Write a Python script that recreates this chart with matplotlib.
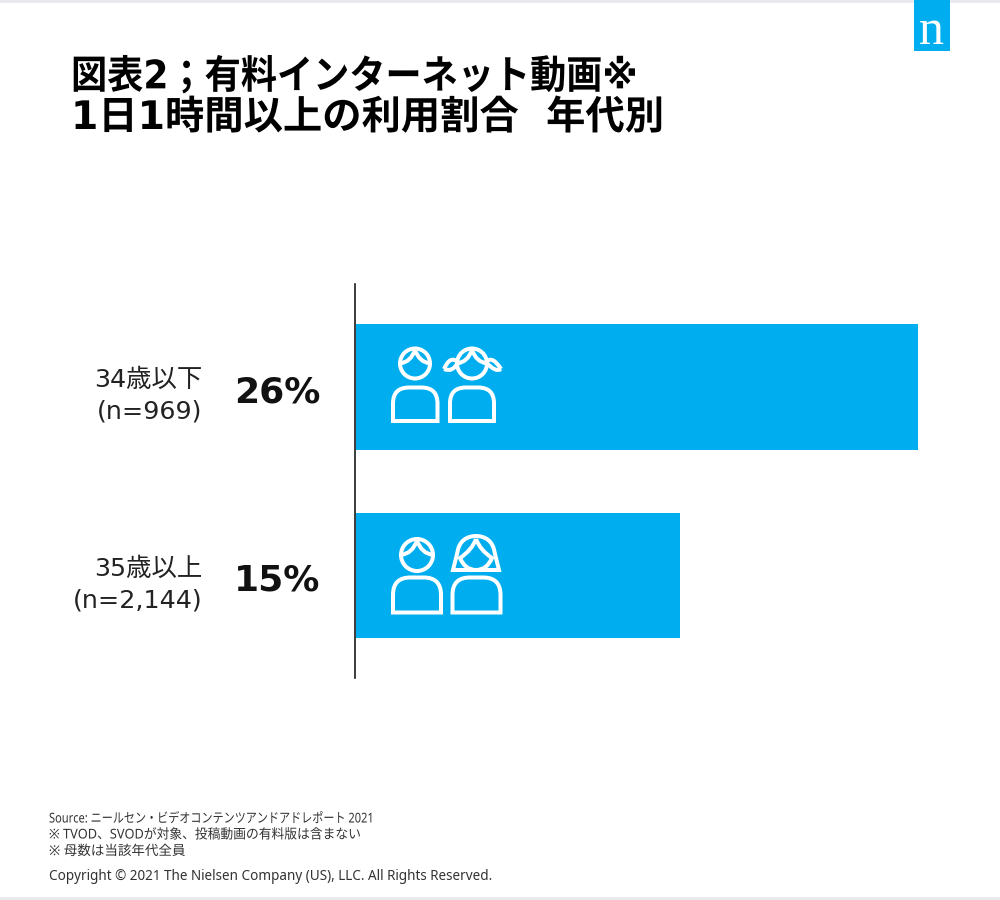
import matplotlib
matplotlib.use("Agg")
from matplotlib import pyplot as plt
from matplotlib.patches import PathPatch, Rectangle, Circle
from matplotlib.path import Path
from matplotlib.patheffects import AbstractPathEffect
from matplotlib.transforms import Affine2D, ScaledTranslation

FONTS = ["DejaVu Sans", "Noto Sans CJK JP"]
FOOT_FONTS = ["Noto Sans", "Noto Sans CJK JP"]
plt.rcParams["font.family"] = FONTS

BLUE = "#00aeef"
PX = 72 / 100  # one pixel in points
ICON_LW = 4 * PX

title_lines = ["図表2；有料インターネット動画※", "1日1時間以上の利用割合  年代別"]
categories = ["34歳以下\n(n=969)", "35歳以上\n(n=2,144)"]
shares = [26, 15]
footnotes = [
    "Source: ニールセン・ビデオコンテンツアンドアドレポート 2021",
    "※ TVOD、SVODが対象、投稿動画の有料版は含まない",
    "※ 母数は当該年代全員",
]
copyright_line = "Copyright © 2021 The Nielsen Company (US), LLC. All Rights Reserved."


class Squeeze(AbstractPathEffect):
    """narrows a text line about its left edge, the source sets its kana tighter"""

    def __init__(self, x0, k):
        super().__init__()
        self.x0 = x0
        self.k = k

    def draw_path(self, renderer, gc, tpath, affine, rgbFace=None):
        squeeze = Affine2D().translate(-self.x0, 0).scale(self.k, 1).translate(self.x0, 0)
        renderer.draw_path(gc, tpath, affine + squeeze, rgbFace)


fig = plt.figure(figsize=(10, 9), dpi=100)

# overlay in pixel coordinates for the page furniture and icons
page = fig.add_axes([0, 0, 1, 1], zorder=3)
page.set_xlim(0, 1000)
page.set_ylim(900, 0)
page.axis("off")

# bar axes: 356..1004 px wide, 284..678 px tall
ax = fig.add_axes([0.356, 1 - 678 / 900, 0.648, 394 / 900], zorder=1)
ax.barh(range(len(shares)), shares, height=0.665, color=BLUE)
ax.set_xlim(0, 30)
ax.set_ylim(1.544, -0.546)
ax.patch.set_alpha(0)
for side in ["top", "right", "bottom"]:
    ax.spines[side].set_visible(False)
ax.spines["left"].set_linewidth(1.6 * PX)
ax.spines["left"].set_color("#111111")
ax.spines["left"].set_position(("outward", 0.8 * PX))
ax.set_xticks([])
ax.set_yticks(range(len(categories)), categories)
ax.tick_params(axis="y", length=0, pad=153 * PX, labelsize=18.3, labelcolor="#222222")
shift_down = ScaledTranslation(0, -2.5 / 100, fig.dpi_scale_trans)
for lab in ax.get_yticklabels():
    lab.set_horizontalalignment("right")
    lab.set_linespacing(1.42)
    lab.set_transform(lab.get_transform() + shift_down)
for i, v in enumerate(shares):
    ax.annotate(f"{v}%", (0, i), xytext=(-35.5 * PX, -5.5 * PX), textcoords="offset points",
                ha="right", va="center", fontsize=26, fontweight="bold", color="#111111")

# title
for y, line, k in zip([77, 118], title_lines, [0.92, 1.0]):
    t = page.text(71, y, line, fontsize=28.3, fontweight="bold", color="black", ha="left", va="center")
    t.set_path_effects([Squeeze(71, k)])

# footer
for y, line, k in zip([819, 835, 851.5], footnotes, [0.82, 0.945, 1.0]):
    t = page.text(49, y, line, fontsize=9.73, color="#333333", family=FOOT_FONTS, va="center")
    t.set_path_effects([Squeeze(49, k)])
page.text(49, 877, copyright_line, fontsize=9.73, color="#333333", family=FOOT_FONTS, va="center")

# thin grey page edges
page.add_patch(Rectangle((0, 0), 1000, 2.5, color="#e8eaed", lw=0))
page.add_patch(Rectangle((0, 896.5), 1000, 3.5, color="#e8eaed", lw=0))

# logo
page.add_patch(Rectangle((913.5, 0), 36, 51, color=BLUE, lw=0))
page.text(931.5, 43.5, "n", color="white", fontsize=36, family="Liberation Serif", ha="center", va="baseline")


def stroke(verts, codes):
    page.add_patch(PathPatch(Path(verts, codes), fill=False, edgecolor="white", lw=ICON_LW))


def body(x0, x1, top, bottom):
    r = (x1 - x0) * 0.36
    stroke(
        [(x0, bottom), (x0, top + r), (x0, top), (x0 + r, top), (x1 - r, top),
         (x1, top), (x1, top + r), (x1, bottom), (x0, bottom)],
        [Path.MOVETO, Path.LINETO, Path.CURVE3, Path.CURVE3, Path.LINETO,
         Path.CURVE3, Path.CURVE3, Path.LINETO, Path.CLOSEPOLY],
    )


def head(cx, cy, r):
    page.add_patch(Circle((cx, cy), r, fill=False, edgecolor="white", lw=ICON_LW))
    # fringe, two strokes meeting at the parting
    top = cy - r * 0.9
    for s in [-1, 1]:
        stroke([(cx + s * r * 0.97, cy - r * 0.02), (cx + s * r * 0.3, cy - r * 0.08), (cx, top)],
               [Path.MOVETO, Path.CURVE3, Path.CURVE3])


def pigtail(x_tip, x_root, y):
    mid = (x_tip + x_root) / 2
    stroke([(x_tip, y), (mid - 1, y - 14), (x_root, y - 7), (mid + 2, y + 4), (x_tip, y)],
           [Path.MOVETO, Path.CURVE3, Path.CURVE3, Path.CURVE3, Path.CURVE3])


def bob_hair(cx, base):
    stroke(
        [(cx - 23, base), (cx - 18.5, base - 18),
         (cx - 17, base - 29), (cx - 9, base - 34), (cx, base - 34),
         (cx + 9, base - 34), (cx + 17, base - 29), (cx + 18.5, base - 18),
         (cx + 23, base), (cx - 23, base)],
        [Path.MOVETO, Path.LINETO,
         Path.CURVE4, Path.CURVE4, Path.CURVE4,
         Path.CURVE4, Path.CURVE4, Path.CURVE4,
         Path.LINETO, Path.CLOSEPOLY],
    )
    stroke(
        [(cx, base - 31), (cx - 4, base - 20), (cx - 16, base - 12), (cx - 11, base), (cx, base),
         (cx + 11, base), (cx + 16, base - 12), (cx + 4, base - 20), (cx, base - 31)],
        [Path.MOVETO, Path.CURVE3, Path.CURVE3, Path.CURVE3, Path.CURVE3,
         Path.CURVE3, Path.CURVE3, Path.CURVE3, Path.CURVE3],
    )


# under-35 pair
head(415, 363.5, 15)
body(393, 437.5, 387.5, 421)
head(472, 363.5, 15)
body(450, 494, 387.5, 421)
pigtail(444, 458, 369)
pigtail(501, 486, 369)

# 35+ pair
head(417, 555, 16)
body(393, 441, 577.5, 612.5)
bob_hair(476, 570)
body(452.5, 500.5, 577.5, 612.5)

fig.savefig("out.png", dpi=100, facecolor="white")
